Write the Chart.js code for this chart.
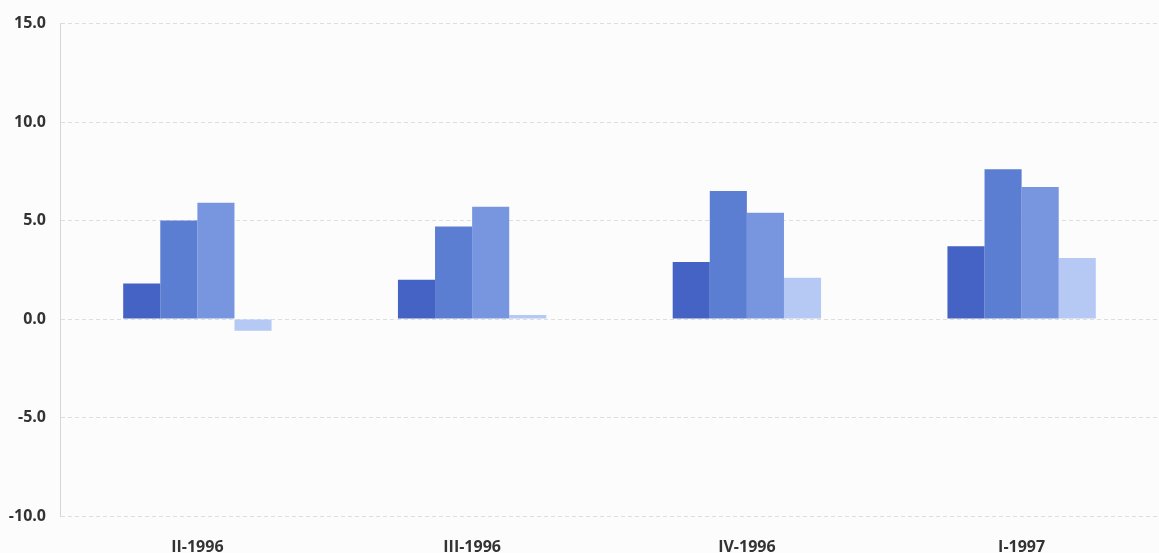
<!DOCTYPE html>
<html>
<head>
<meta charset="utf-8">
<script src="https://cdn.jsdelivr.net/npm/chart.js@4/dist/chart.umd.min.js"></script>
<style>
  html, body { margin: 0; padding: 0; background: #fcfcfc; }
  #wrap { width: 1159px; height: 553px; position: relative; }
</style>
</head>
<body>
<div id="wrap"><canvas id="c"></canvas></div>
<script>
// Quarterly categories
const quarters = ['II-1996', 'III-1996', 'IV-1996', 'I-1997'];

// Four series per quarter
const seriesA = [1.8, 2.0, 2.9, 3.7];
const seriesB = [5.0, 4.7, 6.5, 7.6];
const seriesC = [5.9, 5.7, 5.4, 6.7];
const seriesD = [-0.6, 0.2, 2.1, 3.1];

// Value axis ticks
const yTicks = [-10, -5, 0, 5, 10, 15];

const colors = ['#4463c4', '#5c7ed2', '#7896df', '#b6c9f4'];
const tickFont = { family: 'Open Sans', size: 16, weight: 'bold' };

const ctx = document.getElementById('c');
new Chart(ctx, {
  type: 'bar',
  data: {
    labels: quarters,
    datasets: [seriesA, seriesB, seriesC, seriesD].map((d, i) => ({
      data: d,
      backgroundColor: colors[i],
      borderWidth: 0,
      barPercentage: 1,
      categoryPercentage: 0.54
    }))
  },
  options: {
    responsive: true,
    maintainAspectRatio: false,
    animation: false,
    layout: { padding: { top: 20, right: 0, bottom: 0, left: 0 } },
    plugins: { legend: { display: false }, tooltip: { enabled: false } },
    scales: {
      x: {
        grid: { display: false },
        border: { display: false },
        ticks: {
          color: '#333',
          font: tickFont,
          padding: 14,
          maxRotation: 0
        },
        afterFit: s => { s.height = 37; }
      },
      y: {
        min: -10,
        max: 15,
        afterBuildTicks: s => { s.ticks = yTicks.map(v => ({ value: v })); },
        grid: {
          color: '#dedede',
          lineWidth: 1,
          drawTicks: false
        },
        border: { display: true, color: '#d6d6d6', dash: [4, 3] },
        ticks: {
          color: '#333',
          font: tickFont,
          padding: 14,
          callback: v => Number(v).toFixed(1)
        },
        afterFit: s => { s.width = 60; }
      }
    }
  }
});
</script>
</body>
</html>
